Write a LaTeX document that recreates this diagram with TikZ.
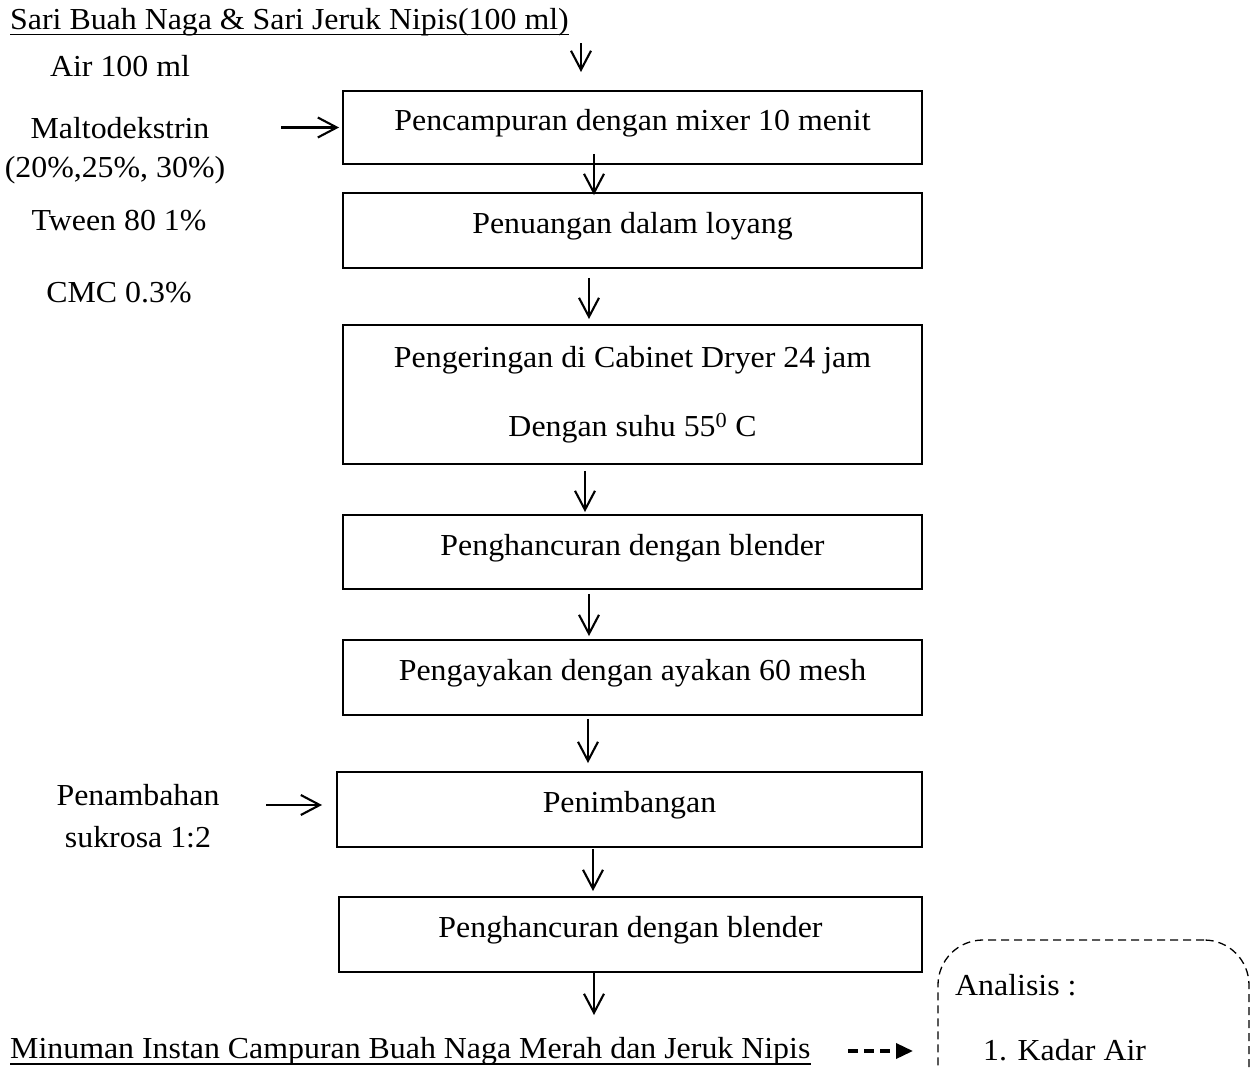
\documentclass[tikz,border=0pt]{standalone}
\usepackage{fontspec}
\setmainfont{Liberation Serif}[FakeStretch=1.045]
\usetikzlibrary{arrows.meta}
\begin{document}
\begin{tikzpicture}[x=1pt,y=-1pt,
  txt/.style={inner sep=0pt, anchor=base, font=\fontsize{30.5pt}{36pt}\selectfont},
  txtl/.style={txt, anchor=base west},
  box/.style={draw, line width=1.9pt, inner sep=0pt, minimum width=579pt,
    text height=21pt, text depth=15pt, font=\fontsize{30.5pt}{36pt}\selectfont},
  arr/.style={line width=2.1pt, -{Straight Barb[length=19pt,width=20pt,line width=2.1pt]}},
  uline/.style={line width=1.6pt},
  darr/.style={line width=3.5pt, dash pattern=on 10pt off 6pt, -{Triangle[length=17pt,width=15pt]}},
  dbox/.style={draw, dash pattern=on 8pt off 5pt, line width=1.3pt, rounded corners=45pt,
    minimum width=311pt, minimum height=220pt, inner sep=0pt}]
\useasboundingbox (0,0) rectangle (1259,1068);
\clip (0,0) rectangle (1259,1068);
\fill[white] (0,0) rectangle (1259,1068);

% title and inputs
\node[txtl] (title) at (10,30) {Sari Buah Naga \& Sari Jeruk Nipis(100 ml)};
\draw[uline] ([yshift=-4.5pt]title.base west) -- ([yshift=-4.5pt]title.base east);
\node[txt] (air) at (120,76) {Air 100 ml};
\node[txt] (malto) at (120,138) {Maltodekstrin};
\node[txt] (maltop) at (115,177) {(20\%,25\%, 30\%)};
\node[txt] (tween) at (119,230) {Tween 80 1\%};
\node[txt] (cmc) at (119,302) {CMC 0.3\%};
\node[txt] (pen1) at (138,805) {Penambahan};
\node[txt] (pen2) at (138,847) {sukrosa 1:2};

% process boxes
\node[box, minimum height=73pt] (b1) at (632.5,127.5) {Pencampuran dengan mixer 10 menit};
\node[box, minimum height=75pt] (b2) at (632.5,230.5) {Penuangan dalam loyang};
\node[draw, line width=1.9pt, inner sep=0pt, minimum width=579pt, minimum height=139pt,
  align=center, font=\fontsize{30.5pt}{69pt}\selectfont] (b3) at (632.5,394.5)
  {Pengeringan di Cabinet Dryer 24 jam\\Dengan suhu 55\textsuperscript{0} C};
\node[box, minimum height=74pt] (b4) at (632.5,552) {Penghancuran dengan blender};
\node[box, minimum height=75pt] (b5) at (632.5,677.5) {Pengayakan dengan ayakan 60 mesh};
\node[box, minimum height=75pt, minimum width=585pt] (b6) at (629.5,809.5) {Penimbangan};
\node[box, minimum height=75pt, minimum width=583pt] (b7) at (630.5,934.5) {Penghancuran dengan blender};

% final product
\node[txtl] (final) at (10,1058) {Minuman Instan Campuran Buah Naga Merah dan Jeruk Nipis};
\draw[uline] ([yshift=-6pt]final.base west) -- ([yshift=-6pt]final.base east);

% analysis box
\node[dbox] (anal) at (1093.5,1050) {};
\node[txtl] (an1) at (955,995) {Analisis :};
\node[txtl] (an2) at (983,1060) {1. Kadar Air};

% coordinates for free arrow ends
\coordinate (a0s) at (581,43);
\coordinate (a0e) at (581,72);
\coordinate (a8e) at (594,1015);
\coordinate (d0) at (848,1051);
\coordinate (d1) at (913,1051);

% vertical arrows
\draw[arr] (a0s) -- (a0e);
\draw[arr] ([xshift=-38.5pt,yshift=11pt]b1.south) -- ([xshift=-38.5pt,yshift=-3pt]b2.north);
\draw[arr] ([xshift=-43.5pt,yshift=-9pt]b2.south) -- ([xshift=-43.5pt,yshift=5pt]b3.north);
\draw[arr] ([xshift=-47.5pt,yshift=-6pt]b3.south) -- ([xshift=-47.5pt,yshift=2pt]b4.north);
\draw[arr] ([xshift=-43.5pt,yshift=-4pt]b4.south) -- ([xshift=-43.5pt,yshift=3pt]b5.north);
\draw[arr] ([xshift=-44.5pt,yshift=-3pt]b5.south) -- ([xshift=-41.5pt,yshift=8pt]b6.north);
\draw[arr] ([xshift=-36.5pt,yshift=-1pt]b6.south) -- ([xshift=-37.5pt,yshift=5pt]b7.north);
\draw[arr] ([xshift=-36.5pt]b7.south) -- (a8e);

% horizontal arrows
\draw[arr] ([xshift=-61pt]b1.west) -- ([xshift=-3pt]b1.west);
\draw[arr] ([xshift=-70pt,yshift=4.5pt]b6.west) -- ([xshift=-14pt,yshift=4.5pt]b6.west);

% dashed arrow to analysis
\draw[darr] (d0) -- (d1);
\end{tikzpicture}
\end{document}
